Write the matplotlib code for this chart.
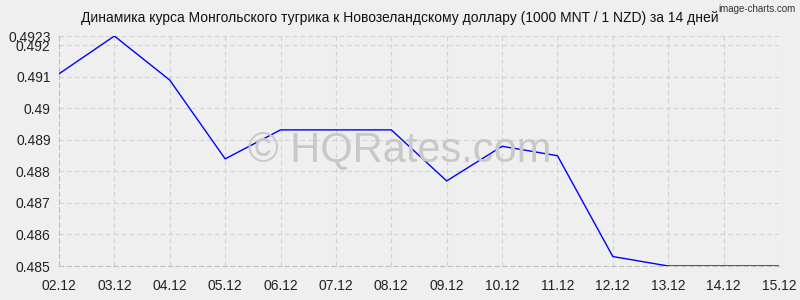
import matplotlib
matplotlib.use("Agg")
import matplotlib.pyplot as plt

plt.rcParams["font.family"] = ["Liberation Sans", "DejaVu Sans"]

dates = ["02.12", "03.12", "04.12", "05.12", "06.12", "07.12", "08.12",
         "09.12", "10.12", "11.12", "12.12", "13.12", "14.12", "15.12"]
rates = [0.4911, 0.4923, 0.4909, 0.4884, 0.48932, 0.48932, 0.48932,
         0.4877, 0.4888, 0.4885, 0.4853, 0.4850, 0.4850, 0.4850]
y_ticks = [0.485, 0.486, 0.487, 0.488, 0.489, 0.49, 0.491, 0.492, 0.4923]
y_labels = ["0.485", "0.486", "0.487", "0.488", "0.489", "0.49", "0.491", "0.492", "0.4923"]

bg = "#efefef"
fig = plt.figure(figsize=(8, 3), dpi=100, facecolor=bg)
ax = fig.add_axes([59 / 800, 34 / 300, 720 / 800, 230 / 300], facecolor=bg)

x = list(range(len(dates)))
ax.plot(x, rates, color="#0000ff", linewidth=1.0, zorder=3)

ax.set_xlim(0, len(dates) - 1)
ax.set_ylim(0.485, 0.4923)
ax.set_xticks(x)
ax.set_xticklabels(dates)
ax.set_yticks(y_ticks)
ax.set_yticklabels(y_labels)
ax.tick_params(axis="both", length=0, labelsize=10, colors="#222222", pad=6)
ax.tick_params(axis="x", pad=9)

ax.grid(True, color="#d2d2d2", linestyle=(0, (4, 3)), linewidth=0.8)
for side in ("top", "right"):
    ax.spines[side].set_visible(False)
for side in ("left", "bottom"):
    ax.spines[side].set_color("#c0c0c0")
    ax.spines[side].set_linestyle((0, (4, 3)))
    ax.spines[side].set_linewidth(0.8)

fig.text(0.5, 0.5, "© HQRates.com", ha="center", va="center",
         fontsize=30, color="#c8c8c8", zorder=0)

fig.text(0.5, 0.94, "Динамика курса Монгольского тугрика к Новозеландскому доллару (1000 MNT / 1 NZD) за 14 дней",
         ha="center", va="center", fontsize=10, color="#111111")
fig.text(0.995, 0.985, "image-charts.com", ha="right", va="top",
         fontsize=7, color="#333333")

fig.savefig("out.png", dpi=100, facecolor=bg)
